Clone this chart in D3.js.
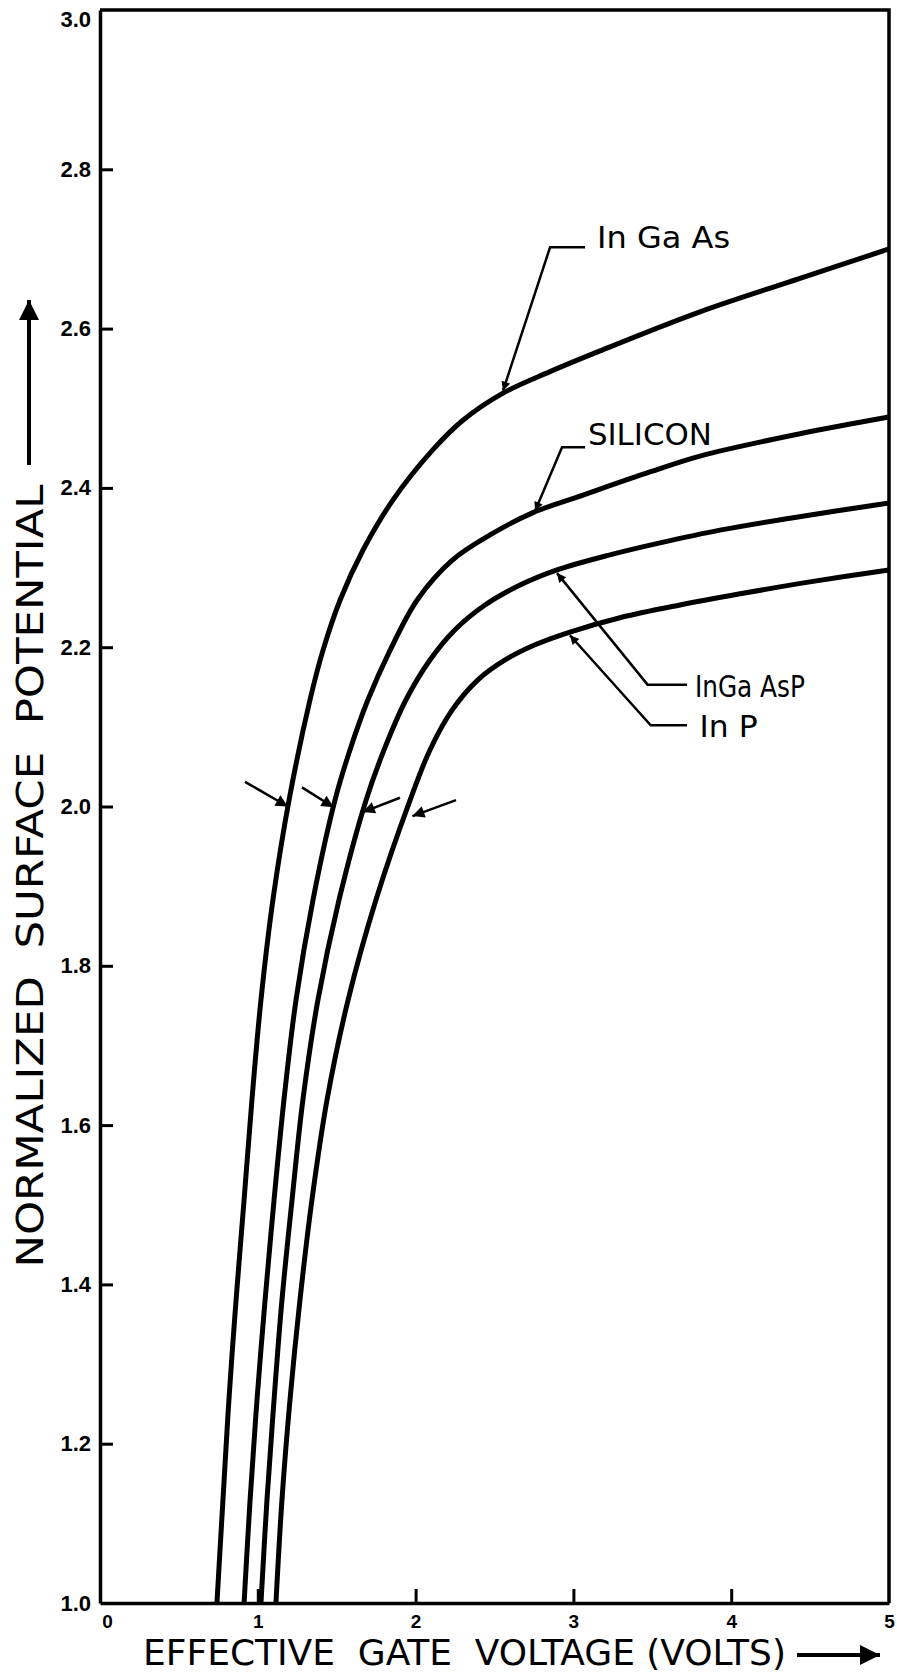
<!DOCTYPE html>
<html>
<head>
<meta charset="utf-8">
<script src="https://cdnjs.cloudflare.com/ajax/libs/d3/7.8.5/d3.min.js"></script>
<style>
  body { margin: 0; background: #fff; }
  svg { display: block; }
  .tick text { font-family: "Liberation Sans", Arial, sans-serif; font-weight: bold; fill: #000; }
</style>
</head>
<body>
<div id="chart"></div>
<script>
// Define SVG area dimensions
var svgWidth = 897;
var svgHeight = 1676;

var chartMargin = {
  top: 10,
  right: 8,
  bottom: 73,
  left: 100
};

var chartWidth = svgWidth - chartMargin.left - chartMargin.right;
var chartHeight = svgHeight - chartMargin.top - chartMargin.bottom;

// tick values
var xTicks = [0, 1, 2, 3, 4, 5];
var yTicks = [1.0, 1.2, 1.4, 1.6, 1.8, 2.0, 2.2, 2.4, 2.6, 2.8, 3.0];

// curves (volts, normalized potential)
var inGaAsX = [0.741, 0.779, 0.817, 0.862, 0.913, 0.963, 1.020, 1.096, 1.198, 1.331, 1.413, 1.521, 1.667, 1.857, 2.110, 2.300, 2.554, 2.852, 3.169, 3.802, 4.436, 5.0];
var inGaAsY = [1.0, 1.129, 1.255, 1.380, 1.506, 1.632, 1.757, 1.883, 2.008, 2.134, 2.196, 2.259, 2.322, 2.385, 2.448, 2.485, 2.519, 2.546, 2.572, 2.621, 2.663, 2.700];

var siliconX = [0.913, 0.951, 0.995, 1.046, 1.103, 1.166, 1.242, 1.350, 1.489, 1.584, 1.698, 1.838, 2.009, 2.231, 2.472, 2.744, 3.061, 3.485, 3.802, 4.436, 5.0];
var siliconY = [1.0, 1.129, 1.255, 1.380, 1.506, 1.632, 1.757, 1.883, 2.008, 2.071, 2.134, 2.196, 2.259, 2.309, 2.341, 2.369, 2.391, 2.420, 2.440, 2.468, 2.489];

var inGaAsPX = [1.020, 1.058, 1.103, 1.153, 1.217, 1.286, 1.381, 1.515, 1.686, 1.800, 1.939, 2.091, 2.250, 2.440, 2.662, 2.896, 3.232, 3.549, 3.929, 4.373, 5.0];
var inGaAsPY = [1.0, 1.129, 1.255, 1.380, 1.506, 1.632, 1.757, 1.883, 2.008, 2.071, 2.134, 2.184, 2.222, 2.253, 2.278, 2.297, 2.316, 2.331, 2.347, 2.362, 2.381];

var inPX = [1.115, 1.153, 1.204, 1.267, 1.343, 1.439, 1.572, 1.749, 1.965, 2.091, 2.231, 2.395, 2.567, 2.757, 2.978, 3.295, 3.676, 4.056, 4.499, 5.0];
var inPY = [1.0, 1.129, 1.255, 1.380, 1.506, 1.632, 1.757, 1.883, 2.008, 2.071, 2.121, 2.159, 2.184, 2.203, 2.219, 2.237, 2.253, 2.267, 2.282, 2.297];

var curveNames = ["In Ga As", "SILICON", "InGa AsP", "In P"];

// label anchors (text start / baseline) and leader lines, in data units
var labelX = [3.15, 3.092, 3.77, 3.80];
var labelY = [2.701, 2.454, 2.138, 2.087];
var labelWidths = [133, 124, 110, 58];
var leaders = [
  [[3.074, 2.702], [2.852, 2.702], [2.554, 2.522]],
  [[3.074, 2.451], [2.928, 2.451], [2.757, 2.371]],
  [[3.72, 2.153], [3.47, 2.153], [2.896, 2.293]],
  [[3.72, 2.102], [3.49, 2.102], [2.978, 2.215]]
];
// short arrows at the 2.0 level (tail -> tip)
var pointers = [
  [[0.919, 2.031], [1.19, 2.0]],
  [[1.28, 2.024], [1.48, 1.999]],
  [[1.901, 2.011], [1.665, 1.993]],
  [[2.256, 2.008], [1.98, 1.988]]
];

var svg = d3.select("#chart")
  .append("svg")
  .attr("width", svgWidth)
  .attr("height", svgHeight);

var defs = svg.append("defs");
function addHead(id, w, h) {
  defs.append("marker")
    .attr("id", id)
    .attr("viewBox", "0 0 10 10")
    .attr("refX", 10)
    .attr("refY", 5)
    .attr("markerUnits", "userSpaceOnUse")
    .attr("markerWidth", w)
    .attr("markerHeight", h)
    .attr("orient", "auto")
    .append("path")
    .attr("d", "M0,0L10,5L0,10Z")
    .attr("fill", "#000");
}
addHead("head", 20, 9);
addHead("ptr", 16, 12);
addHead("bighead", 28, 20);

var chartGroup = svg.append("g")
  .attr("transform", `translate(${chartMargin.left}, ${chartMargin.top})`);

var x = d3.scaleLinear().domain([0, 5]).range([0, chartWidth]);
var y = d3.scaleLinear().domain([1, 3]).range([chartHeight, 0]);

// frame
chartGroup.append("path")
  .attr("d", `M${x(0)},${y(3)}L${x(5)},${y(3)}L${x(5)},${y(1)}`)
  .attr("fill", "none")
  .attr("stroke", "#000")
  .attr("stroke-width", 3.5);

var leftAxis = d3.axisLeft(y)
  .tickValues(yTicks)
  .tickFormat(d3.format(".1f"))
  .tickSizeInner(-13)
  .tickSizeOuter(0)
  .tickPadding(9);

var bottomAxis = d3.axisBottom(x)
  .tickValues(xTicks)
  .tickFormat(d3.format("d"))
  .tickSizeInner(-14)
  .tickSizeOuter(0)
  .tickPadding(12);

var yAxis = chartGroup.append("g").call(leftAxis);
var xAxis = chartGroup.append("g")
  .attr("transform", `translate(0, ${chartHeight})`)
  .call(bottomAxis);

[xAxis, yAxis].forEach(function(ax) {
  ax.select(".domain").attr("stroke-width", 3.5).attr("stroke", "#000");
  ax.selectAll(".tick line").attr("stroke-width", 3).attr("stroke", "#000");
});
yAxis.selectAll(".tick text").style("font-size", "22px");
yAxis.selectAll(".tick text").filter(d => d === 3).attr("dy", "0.75em");
xAxis.selectAll(".tick text").style("font-size", "19px");
xAxis.selectAll(".tick text").filter(d => d === 0).attr("dx", 7);
xAxis.selectAll(".tick line").filter(d => d === 0 || d === 5).remove();
yAxis.selectAll(".tick line").filter(d => d === 1 || d === 3).remove();

// curves
var series = [
  d3.zip(inGaAsX, inGaAsY),
  d3.zip(siliconX, siliconY),
  d3.zip(inGaAsPX, inGaAsPY),
  d3.zip(inPX, inPY)
];

var line = d3.line()
  .x(d => x(d[0]))
  .y(d => y(d[1]))
  .curve(d3.curveCatmullRom.alpha(0.5));

chartGroup.selectAll(".curve")
  .data(series)
  .enter()
  .append("path")
  .attr("class", "curve")
  .attr("d", line)
  .attr("fill", "none")
  .attr("stroke", "#000")
  .attr("stroke-width", 5)
  .attr("stroke-linejoin", "round");

// leaders
var leaderLine = d3.line().x(d => x(d[0])).y(d => y(d[1]));
chartGroup.selectAll(".leader")
  .data(leaders)
  .enter()
  .append("path")
  .attr("class", "leader")
  .attr("d", leaderLine)
  .attr("fill", "none")
  .attr("stroke", "#000")
  .attr("stroke-width", 2.5)
  .attr("marker-end", "url(#head)");

chartGroup.selectAll(".pointer")
  .data(pointers)
  .enter()
  .append("path")
  .attr("class", "pointer")
  .attr("d", leaderLine)
  .attr("fill", "none")
  .attr("stroke", "#000")
  .attr("stroke-width", 2.5)
  .attr("marker-end", "url(#ptr)");

chartGroup.selectAll(".clabel")
  .data(curveNames)
  .enter()
  .append("text")
  .attr("class", "clabel")
  .attr("x", (d, i) => x(labelX[i]))
  .attr("y", (d, i) => y(labelY[i]))
  .attr("textLength", (d, i) => labelWidths[i])
  .attr("lengthAdjust", "spacingAndGlyphs")
  .style("font-family", "'DejaVu Sans', sans-serif")
  .style("font-size", "31px")
  .style("white-space", "pre")
  .text(d => d);

// axis titles
svg.append("text")
  .attr("x", 143)
  .attr("y", 1665)
  .attr("textLength", 643)
  .attr("lengthAdjust", "spacingAndGlyphs")
  .style("font-family", "'Liberation Sans Narrow', 'DejaVu Sans Condensed', sans-serif")
  .style("font-size", "35px")
  .style("white-space", "pre")
  .text("EFFECTIVE  GATE  VOLTAGE (VOLTS)");

svg.append("line")
  .attr("x1", 797).attr("y1", 1655)
  .attr("x2", 880).attr("y2", 1655)
  .attr("stroke", "#000")
  .attr("stroke-width", 4)
  .attr("marker-end", "url(#bighead)");

svg.append("text")
  .attr("transform", "translate(43, 876) rotate(-90)")
  .attr("text-anchor", "middle")
  .attr("textLength", 783)
  .attr("lengthAdjust", "spacingAndGlyphs")
  .style("font-family", "'Liberation Sans Narrow', 'DejaVu Sans Condensed', sans-serif")
  .style("font-size", "38px")
  .style("white-space", "pre")
  .text("NORMALIZED  SURFACE  POTENTIAL");

svg.append("line")
  .attr("x1", 29).attr("y1", 465)
  .attr("x2", 29).attr("y2", 300)
  .attr("stroke", "#000")
  .attr("stroke-width", 4)
  .attr("marker-end", "url(#bighead)");
</script>
</body>
</html>
